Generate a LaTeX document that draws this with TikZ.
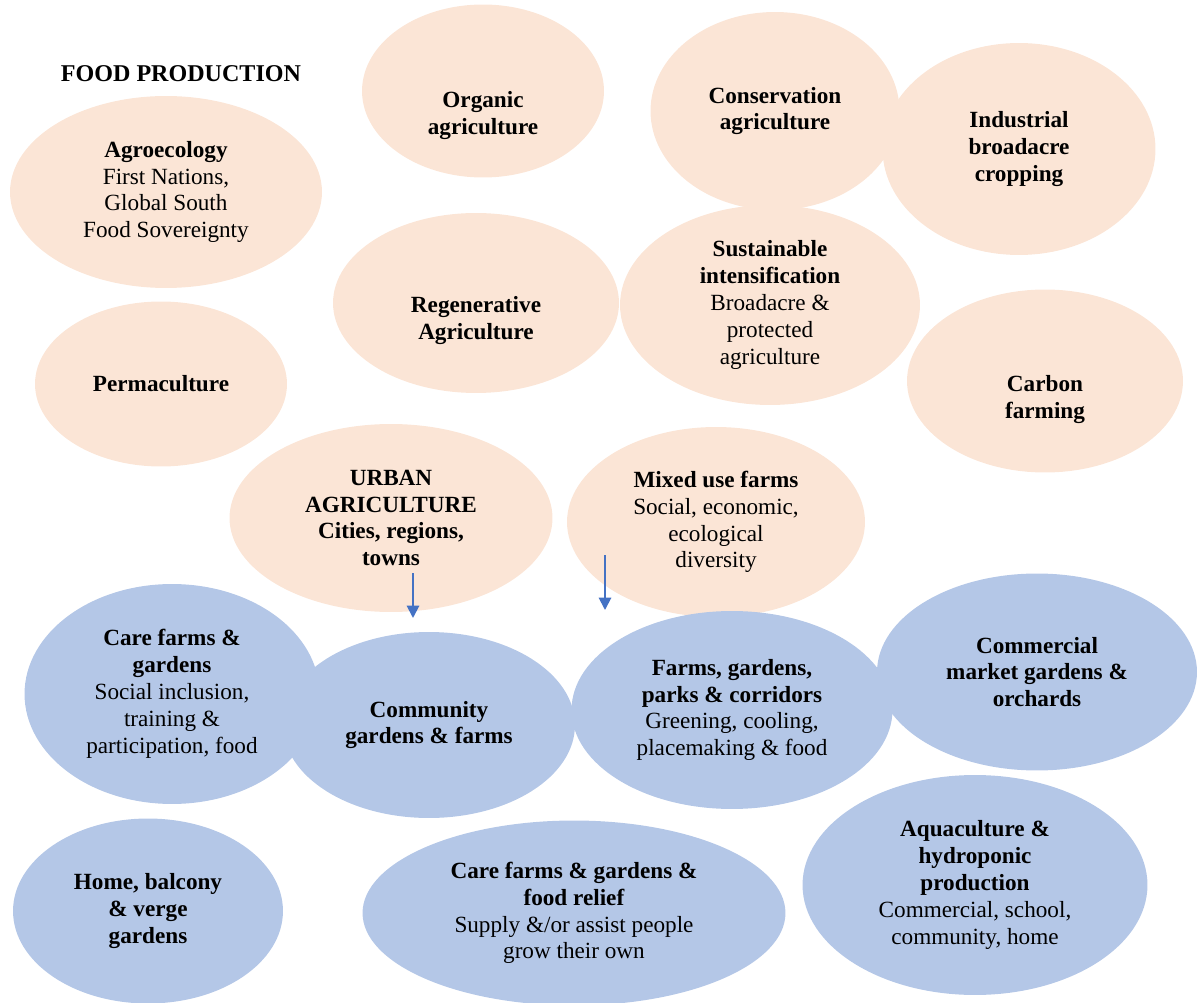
\documentclass[tikz,border=0pt]{standalone}
\usepackage{fontspec}
\setmainfont{Liberation Serif}
\usetikzlibrary{arrows.meta,shapes.geometric}
\definecolor{peach}{HTML}{FBE5D6}
\definecolor{paleblue}{HTML}{B4C7E7}
\definecolor{arrowblue}{HTML}{4472C4}
\newcommand{\blobfont}{\fontsize{13.2}{15.3}\selectfont}

\begin{document}
\begin{tikzpicture}[
  x=0.02cm, y=-0.02cm,
  sink/.style={execute at begin node={\rule{0pt}{#1}}},
  blob/.style={ellipse, inner sep=0pt, align=center, font=\blobfont},
  head/.style={font=\blobfont\bfseries},
  prod/.style={blob, fill=peach},
  urb/.style={blob, fill=paleblue},
  arr/.style={draw=arrowblue, line width=1.1pt, -{Triangle[length=7pt,width=7pt,fill=arrowblue]}},
]
\useasboundingbox (0,0) rectangle (1197,1003);

% food production
\node[font=\fontsize{13.7}{16}\selectfont\bfseries] (title) at (181,74) {FOOD PRODUCTION};
\node[prod, minimum width=6.24cm, minimum height=3.84cm] (agroeco) at (166,192)
  {\textbf{Agroecology}\\First Nations,\\Global South\\Food Sovereignty};
\node[prod, head, sink=51.9pt, minimum width=4.84cm, minimum height=3.46cm] (organic) at (483,91)
  {Organic\\agriculture};
\node[prod, head, minimum width=4.98cm, minimum height=3.96cm] (conserv) at (775,111)
  {Conservation\\agriculture};
\node[prod, head, minimum width=5.46cm, minimum height=4.24cm] (industrial) at (1019,149)
  {Industrial\\broadacre\\cropping};
\node[prod, head, sink=43.9pt, minimum width=5.72cm, minimum height=3.6cm] (regen) at (476,303)
  {Regenerative\\Agriculture};
\node[prod, minimum width=6.0cm, minimum height=4.0cm] (sustain) at (770,305)
  {\textbf{Sustainable}\\\textbf{intensification}\\Broadacre \&\\protected\\agriculture};
\node[prod, head, minimum width=5.04cm, minimum height=3.3cm] (perma) at (161,384)
  {Permaculture};
\node[prod, head, sink=45.1pt, minimum width=5.52cm, minimum height=3.66cm] (carbon) at (1045,381)
  {Carbon\\farming};
\node[prod, head, minimum width=6.46cm, minimum height=3.76cm] (urban) at (391,518)
  {URBAN\\AGRICULTURE\\Cities, regions,\\towns};
\node[prod, minimum width=5.96cm, minimum height=3.8cm] (mixed) at (716,522)
  {\textbf{Mixed use farms}\\Social, economic,\\ecological\\diversity};

% urban agriculture
\node[urb, minimum width=5.9cm, minimum height=4.4cm] (carefarms) at (172,694)
  {\textbf{Care farms \&}\\\textbf{gardens}\\Social inclusion,\\training \&\\participation, food};
\node[urb, head, minimum width=5.84cm, minimum height=3.72cm] (community) at (429,725)
  {Community\\gardens \& farms};
\node[urb, minimum width=6.42cm, minimum height=3.96cm] (greening) at (732,710)
  {\textbf{Farms, gardens,}\\\textbf{parks \& corridors}\\Greening, cooling,\\placemaking \& food};
\node[urb, head, minimum width=6.4cm, minimum height=3.94cm] (commercial) at (1037,672)
  {Commercial\\market gardens \&\\orchards};
\node[urb, head, minimum width=5.4cm, minimum height=3.7cm] (home) at (148,911)
  {Home, balcony\\\& verge\\gardens};
\node[urb, minimum width=8.46cm, minimum height=3.7cm] (relief) at (574,913)
  {\textbf{Care farms \& gardens \&}\\\textbf{food relief}\\Supply \&/or assist people\\grow their own};
\node[urb, minimum width=6.9cm, minimum height=4.4cm] (aqua) at (975,885)
  {\textbf{Aquaculture \&}\\\textbf{hydroponic}\\\textbf{production}\\Commercial, school,\\community, home};

% arrows
\coordinate (urban-out) at (413,573);
\coordinate (community-in) at (413,618);
\coordinate (mixed-out) at (605,555);
\coordinate (greening-in) at (605,610);
\draw[arr] (urban-out) -- (community-in);
\draw[arr] (mixed-out) -- (greening-in);
\end{tikzpicture}
\end{document}
